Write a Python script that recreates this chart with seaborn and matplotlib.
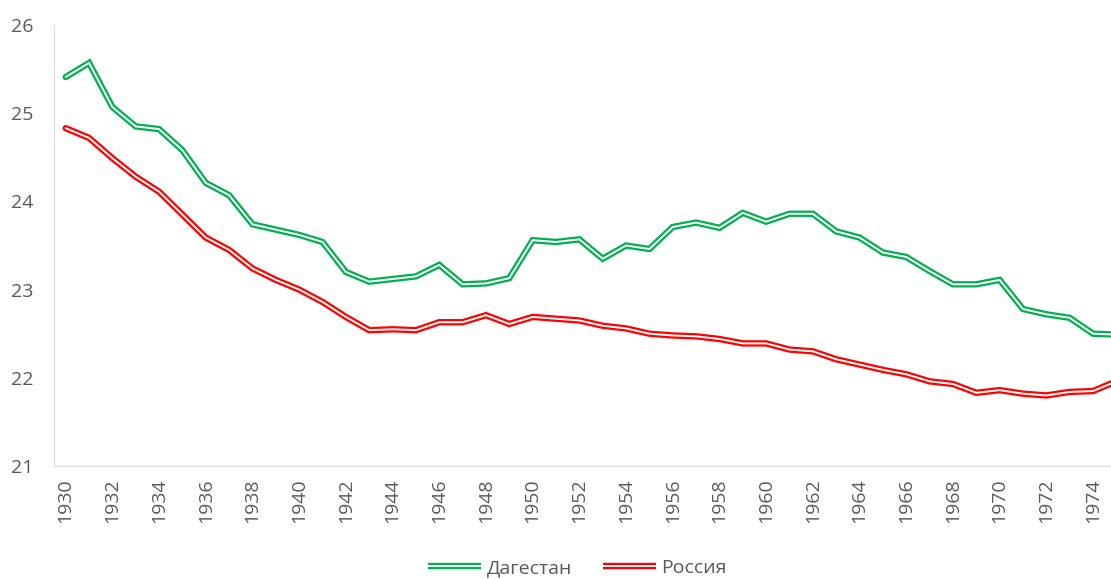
import numpy as np
import pandas as pd
import seaborn as sns
import matplotlib
matplotlib.use("Agg")
import matplotlib.pyplot as plt
from matplotlib.lines import Line2D
from matplotlib.legend_handler import HandlerTuple

# data
years = list(range(1930, 1976))
dagestan = [25.41, 25.57, 25.07, 24.85, 24.82, 24.58, 24.21, 24.07, 23.74, 23.68,
            23.62, 23.54, 23.20, 23.09, 23.12, 23.15, 23.28, 23.06, 23.07, 23.13,
            23.56, 23.54, 23.57, 23.35, 23.50, 23.46, 23.71, 23.76, 23.70, 23.87,
            23.77, 23.86, 23.86, 23.66, 23.59, 23.42, 23.37, 23.21, 23.06, 23.06,
            23.11, 22.78, 22.72, 22.68, 22.50, 22.49]
russia = [24.83, 24.72, 24.49, 24.28, 24.11, 23.85, 23.59, 23.45, 23.24, 23.11,
          23.00, 22.86, 22.69, 22.54, 22.55, 22.54, 22.63, 22.63, 22.71, 22.61,
          22.69, 22.67, 22.65, 22.59, 22.56, 22.50, 22.48, 22.47, 22.44, 22.39,
          22.39, 22.32, 22.30, 22.21, 22.15, 22.09, 22.04, 21.96, 21.93, 21.83,
          21.86, 21.82, 21.80, 21.84, 21.85, 21.96]
series_names = ["Дагестан", "Россия"]
series_colors = ["#00b050", "#ff0000"]

df = pd.DataFrame({"year": years, "Дагестан": dagestan, "Россия": russia})

sns.set_style("white")
plt.rcParams["font.family"] = ["Open Sans", "DejaVu Sans"]

fig = plt.figure(figsize=(11.11, 5.79), dpi=100)
ax = fig.add_axes([54 / 1111, 1 - 466 / 579, 1 - 54 / 1111, (466 - 25) / 579])

for name, col in zip(series_names, series_colors):
    # double line: thick coloured stroke with a thin white core
    sns.lineplot(data=df, x="year", y=name, color=col, lw=4.6, ax=ax,
                 solid_joinstyle="miter")
    sns.lineplot(data=df, x="year", y=name, color="white", lw=1.4, ax=ax,
                 solid_joinstyle="miter")

ax.set_xlim(1929.5, 1974.77)
ax.set_ylim(21, 26)
ax.set_yticks([21, 22, 23, 24, 25, 26])
ax.set_xticks(years[::2])
ax.set_xticklabels([str(y) for y in years[::2]], rotation=90)
ax.set_xlabel("")
ax.set_ylabel("")
ax.tick_params(axis="both", length=0, labelsize=14, labelcolor="#595959")
ax.tick_params(axis="y", pad=15)
ax.tick_params(axis="x", pad=9)

for s in ["top", "right"]:
    ax.spines[s].set_visible(False)
ax.spines["left"].set_color("#d9d9d9")
ax.spines["bottom"].set_color("#d9d9d9")
ax.spines["left"].set_linewidth(0.8)
ax.spines["bottom"].set_linewidth(0.8)

handles = []
for col in series_colors:
    handles.append((Line2D([], [], color=col, lw=4.6, solid_capstyle="butt"),
                    Line2D([], [], color="white", lw=1.4, solid_capstyle="butt")))
fig.legend(handles, series_names, handler_map={tuple: HandlerTuple(ndivide=1)},
           loc="center", bbox_to_anchor=(0.52, 1 - 568 / 579), ncol=2, frameon=False,
           fontsize=14, labelcolor="#595959", handlelength=2.7, handletextpad=0.3,
           columnspacing=1.6)

fig.savefig("out.png", dpi=100)
